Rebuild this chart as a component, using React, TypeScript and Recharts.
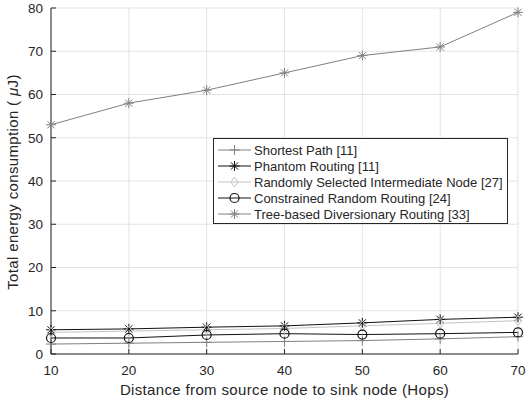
import {
  LineChart, Line, XAxis, YAxis, CartesianGrid, Label,
} from 'recharts'

const hops = [10, 20, 30, 40, 50, 60, 70]
const shortestPath = [2.3, 2.5, 2.7, 2.9, 3.1, 3.5, 4.0]
const phantomRouting = [5.6, 5.8, 6.2, 6.5, 7.2, 8.0, 8.5]
const randomIntermediate = [5.0, 5.3, 5.6, 5.9, 6.5, 7.1, 7.7]
const constrainedRandom = [3.7, 3.7, 4.4, 4.7, 4.5, 4.7, 5.0]
const treeDiversionary = [53, 58, 61, 65, 69, 71, 79]

const xTicks = [10, 20, 30, 40, 50, 60, 70]
const yTicks = [0, 10, 20, 30, 40, 50, 60, 70, 80]

const data = hops.map((h, i) => ({
  hops: h,
  sp: shortestPath[i],
  pr: phantomRouting[i],
  rs: randomIntermediate[i],
  cr: constrainedRandom[i],
  tb: treeDiversionary[i],
}))

type Marker = 'plus' | 'star' | 'diamond' | 'circle'

const MarkShape = ({ kind, cx, cy, color }: { kind: Marker; cx: number; cy: number; color: string }) => {
  const r = 5
  if (kind === 'plus') {
    return (
      <g stroke={color} strokeWidth={1}>
        <line x1={cx - r} y1={cy} x2={cx + r} y2={cy} />
        <line x1={cx} y1={cy - r} x2={cx} y2={cy + r} />
      </g>
    )
  }
  if (kind === 'star') {
    const d = r * 0.72
    return (
      <g stroke={color} strokeWidth={1}>
        <line x1={cx - r} y1={cy} x2={cx + r} y2={cy} />
        <line x1={cx} y1={cy - r} x2={cx} y2={cy + r} />
        <line x1={cx - d} y1={cy - d} x2={cx + d} y2={cy + d} />
        <line x1={cx - d} y1={cy + d} x2={cx + d} y2={cy - d} />
      </g>
    )
  }
  if (kind === 'diamond') {
    return (
      <path d={`M${cx},${cy - r} L${cx + r * 0.7},${cy} L${cx},${cy + r} L${cx - r * 0.7},${cy} Z`} fill="none" stroke={color} strokeWidth={1} />
    )
  }
  return <circle cx={cx} cy={cy} r={4.5} fill="none" stroke={color} strokeWidth={1.2} />
}

const series: { key: string; name: string; color: string; marker: Marker }[] = [
  { key: 'sp', name: 'Shortest Path [11]', color: '#808080', marker: 'plus' },
  { key: 'pr', name: 'Phantom Routing [11]', color: '#111111', marker: 'star' },
  { key: 'rs', name: 'Randomly Selected Intermediate Node [27]', color: '#c4c4c4', marker: 'diamond' },
  { key: 'cr', name: 'Constrained Random Routing [24]', color: '#111111', marker: 'circle' },
  { key: 'tb', name: 'Tree-based Diversionary Routing [33]', color: '#808080', marker: 'star' },
]

const FONT = '"Liberation Sans", Arial, sans-serif'
const AXIS = '#262626'

// legend drawn as an overlay box, MATLAB style
const LegendBox = () => (
  <div
    style={{
      position: 'absolute', left: 213, top: 138,
      width: 293, height: 81, border: `1px solid ${AXIS}`, background: 'white',
      fontFamily: FONT, fontSize: 13, color: AXIS, paddingTop: 3, boxSizing: 'content-box',
    }}
  >
    {series.map((s) => (
      <div key={s.key} style={{ display: 'flex', alignItems: 'center', height: 16, whiteSpace: 'nowrap' }}>
        <svg width={40} height={16} style={{ flex: 'none' }}>
          <line x1={4} y1={8} x2={37} y2={8} stroke={s.color} strokeWidth={1} />
          <MarkShape kind={s.marker} cx={20.5} cy={8} color={s.color} />
        </svg>
        <span>{s.name}</span>
      </div>
    ))}
  </div>
)

const XLabel = ({ viewBox }: any) => {
  const cx = 51 + (518 - 51) / 2
  return (
    <text x={cx} y={viewBox.y + viewBox.height - 7} textAnchor="middle" fill={AXIS} fontSize={15} letterSpacing={0.35} fontFamily={FONT}>
      Distance from source node to sink node (Hops)
    </text>
  )
}

const YLabel = () => (
  <text x={0} y={0} transform="translate(18,182) rotate(-90)" textAnchor="middle" fill={AXIS} fontSize={15} letterSpacing={0.35} fontFamily={FONT}>
    Total energy consumption ( <tspan fontStyle="italic">μ</tspan>J)
  </text>
)

export default function App() {
  return (
    <div style={{ position: 'absolute', left: 0, top: 0, width: 528, height: 402, background: 'white' }}>
      <LineChart width={528} height={402} data={data} margin={{ top: 8, right: 10, left: 0, bottom: 0 }}>
        <CartesianGrid stroke="#e3e3e3" strokeWidth={1} horizontalValues={yTicks} verticalValues={xTicks} />
        <XAxis
          dataKey="hops" type="number" domain={[10, 70]} ticks={xTicks} height={48}
          axisLine={{ stroke: AXIS }} tickLine={{ stroke: AXIS }} tickSize={-5} tickMargin={16}
          tick={{ fill: AXIS, fontSize: 13.5, fontFamily: FONT }} interval={0}
        >
          <Label content={<XLabel />} />
        </XAxis>
        <XAxis
          xAxisId="top" orientation="top" dataKey="hops" type="number" domain={[10, 70]} ticks={xTicks} height={0}
          axisLine={{ stroke: AXIS }} tickLine={{ stroke: AXIS }} tickSize={-5} tick={false}
        />
        <YAxis
          type="number" domain={[0, 80]} ticks={yTicks} width={51}
          axisLine={{ stroke: AXIS }} tickLine={{ stroke: AXIS }} tickSize={-5} tickMargin={13}
          tick={{ fill: AXIS, fontSize: 13.5, fontFamily: FONT }} interval={0}
        >
          <Label content={<YLabel />} />
        </YAxis>
        <YAxis
          yAxisId="right" orientation="right" type="number" domain={[0, 80]} ticks={yTicks} width={0}
          axisLine={{ stroke: AXIS }} tickLine={{ stroke: AXIS }} tickSize={-5} tick={false}
        />
        {series.map((s) => (
          <Line
            key={s.key}
            dataKey={s.key}
            name={s.name}
            stroke={s.color}
            strokeWidth={1}
            isAnimationActive={false}
            dot={(p: any) => <MarkShape key={`${s.key}-${p.index}`} kind={s.marker} cx={p.cx} cy={p.cy} color={s.color} />}
          />
        ))}
      </LineChart>
      <LegendBox />
    </div>
  )
}
